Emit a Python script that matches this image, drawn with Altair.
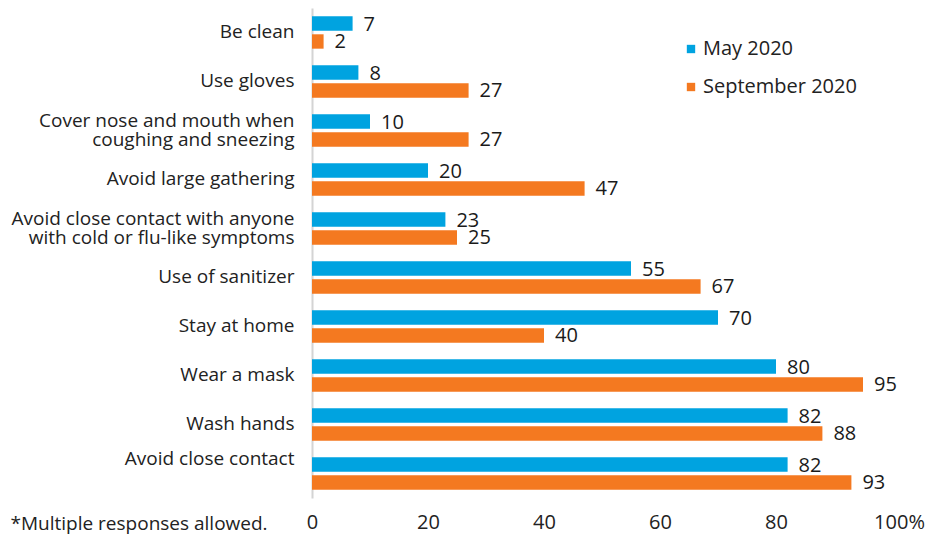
import altair as alt
import pandas as pd

categories = [
    "Be clean",
    "Use gloves",
    "Cover nose and mouth when|coughing and sneezing",
    "Avoid large gathering",
    "Avoid close contact with anyone|with cold or flu-like symptoms",
    "Use of sanitizer",
    "Stay at home",
    "Wear a mask",
    "Wash hands",
    "Avoid close contact",
]
may_2020 = [7, 8, 10, 20, 23, 55, 70, 80, 82, 82]
sep_2020 = [2, 27, 27, 47, 25, 67, 40, 95, 88, 93]
series = ["May 2020", "September 2020"]
colors = ["#00a3e0", "#f47920"]
x_ticks = [0, 20, 40, 60, 80, 100]

rows = []
for c, m, s in zip(categories, may_2020, sep_2020):
    rows.append({"category": c, "series": series[0], "value": m})
    rows.append({"category": c, "series": series[1], "value": s})
df = pd.DataFrame(rows)

FONT = "Open Sans"
INK = "#222222"

y_label_offset = {
    "condition": [
        {"test": "indexof(datum.value, '|') >= 0", "value": -10},
        {"test": "datum.value === 'Avoid close contact'", "value": -15},
    ],
    "value": -1,
}

y_enc = alt.Y(
    "category:N",
    sort=categories,
    scale=alt.Scale(paddingInner=0.34, paddingOuter=0.17),
    axis=alt.Axis(
        title=None,
        ticks=False,
        domain=True,
        domainColor="#d4d4d4",
        domainWidth=2,
        labelExpr="split(datum.label, '|')",
        labelOffset=y_label_offset,
        labelFont=FONT,
        labelFontSize=19,
        labelColor=INK,
        labelPadding=18,
        labelLineHeight=19,
        labelLimit=400,
    ),
)
yoff_enc = alt.YOffset("series:N", sort=series, scale=alt.Scale(paddingInner=0.2))

x_enc = alt.X(
    "value:Q",
    scale=alt.Scale(domain=[0, 100]),
    axis=alt.Axis(
        values=x_ticks,
        grid=False,
        ticks=False,
        domain=False,
        labelFlush=False,
        labelOverlap=False,
        labelExpr="datum.value == 100 ? '100%' : datum.label",
        labelOffset=alt.condition("datum.value == 100", alt.value(7), alt.value(0)),
        labelFont=FONT,
        labelFontSize=20,
        labelColor=INK,
        labelPadding=14,
        title="*Multiple responses allowed.",
        titleFont=FONT,
        titleFontSize=19,
        titleFontWeight="normal",
        titleColor=INK,
        titleX=-302,
        titleY=25,
        titleAlign="left",
        titleAnchor="start",
        titleBaseline="middle",
    ),
)

color_enc = alt.Color(
    "series:N",
    sort=series,
    scale=alt.Scale(domain=series, range=colors),
    legend=alt.Legend(
        title=None,
        orient="none",
        legendX=369,
        legendY=31,
        symbolType="square",
        symbolSize=70,
        symbolStrokeWidth=0,
        labelFont=FONT,
        labelFontSize=20,
        labelColor=INK,
        labelOffset=2,
        rowPadding=18,
    ),
)

bars = alt.Chart(df).mark_bar().encode(
    x=x_enc, y=y_enc, yOffset=yoff_enc, color=color_enc
)

labels = alt.Chart(df).mark_text(
    align="left", baseline="middle", dx=11, dy=1, font=FONT, fontSize=20, color="#1a1a1a"
).encode(
    x=x_enc,
    y=y_enc,
    yOffset=yoff_enc,
    text="value:Q",
)

chart = (
    alt.layer(bars, labels)
    .properties(
        width=580,
        height=490,
        background="white",
        autosize=alt.AutoSizeParams(type="none"),
        padding={"left": 304, "top": 0, "right": 35, "bottom": 36},
    )
    .configure_view(strokeWidth=0, stroke="transparent")
)

chart.save("out.html", embed_options={"renderer": "svg", "actions": False})
